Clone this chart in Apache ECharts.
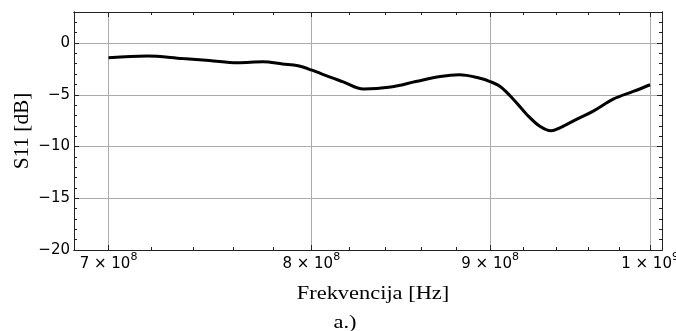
<!DOCTYPE html>
<html>
<head>
<meta charset="utf-8">
<script src="https://cdn.jsdelivr.net/npm/echarts@6/dist/echarts.min.js"></script>
<style>
html,body{margin:0;padding:0;background:#fff;}
#chart{width:676px;height:331px;}
</style>
</head>
<body>
<div id="chart"></div>
<script>
// Frequency points (Hz) and S11 values (dB)
const freqHz = [7.00e8, 7.18e8, 7.35e8, 7.48e8, 7.62e8, 7.75e8, 7.85e8, 7.93e8, 8.00e8, 8.10e8, 8.17e8, 8.28e8, 8.43e8, 8.57e8, 8.71e8, 8.82e8, 8.94e8, 9.00e8, 9.06e8, 9.14e8, 9.22e8, 9.30e8, 9.37e8, 9.42e8, 9.53e8, 9.63e8, 9.76e8, 9.89e8, 1.00e9];
const s11dB = [-1.42, -1.25, -1.5, -1.68, -1.9, -1.81, -2.03, -2.2, -2.6, -3.3, -3.75, -4.45, -4.25, -3.72, -3.23, -3.07, -3.4, -3.72, -4.2, -5.45, -6.9, -8.05, -8.48, -8.22, -7.35, -6.6, -5.42, -4.68, -4.03];

// Tick values
const xMajorTicks = [7e8, 8e8, 9e8, 1e9];
const xMinorTicks = [7.2e8, 7.4e8, 7.6e8, 7.8e8, 8.2e8, 8.4e8, 8.6e8, 8.8e8, 9.2e8, 9.4e8, 9.6e8, 9.8e8];
const yMajorTicks = [-20, -15, -10, -5, 0];
const yMinorTicks = [-19, -18, -17, -16, -14, -13, -12, -11, -9, -8, -7, -6, -4, -3, -2, -1, 1, 2];

// Axis ranges
const xRange = [6.8425e8, 1.0079e9];
const yRange = [-20, 3];

// Axis texts
const xTitle = 'Frekvencija [Hz]';
const yTitle = 'S11 [dB]';
const caption = 'a.)';

const lg = v => Math.log10(v);
const frameColor = '#222';
const gridColor = '#ababab';

function xLabel(v) {
  const e = Math.floor(v + 1e-9);
  const m = Math.round(Math.pow(10, v - e));
  return '{m|' + m + ' \u00d7 10}{s|' + e + '}';
}

function xAxisCfg(pos, ticks, len, labels, split) {
  return {
    type: 'value', position: pos, min: lg(xRange[0]), max: lg(xRange[1]),
    axisLine: { show: true, onZero: false, lineStyle: { color: frameColor, width: 1 } },
    axisTick: { show: true, inside: true, length: len, customValues: ticks.map(lg), lineStyle: { color: frameColor } },
    axisLabel: labels ? {
      show: true, customValues: ticks.map(lg), formatter: xLabel, margin: 2,
      rich: {
        m: { fontFamily: 'DejaVu Sans', fontSize: 15, color: '#000', lineHeight: 25 },
        s: { fontFamily: 'DejaVu Sans', fontSize: 11, color: '#000', lineHeight: 7, verticalAlign: 'top' }
      }
    } : { show: false },
    splitLine: split ? { show: true, lineStyle: { color: gridColor, width: 1 } } : { show: false },
    minorTick: { show: false }
  };
}

function yAxisCfg(pos, ticks, len, labels, split) {
  return {
    type: 'value', position: pos, min: yRange[0], max: yRange[1],
    axisLine: { show: true, onZero: false, lineStyle: { color: frameColor, width: 1 } },
    axisTick: { show: true, inside: true, length: len, customValues: ticks, lineStyle: { color: frameColor } },
    axisLabel: labels ? {
      show: true, customValues: ticks, margin: 4,
      fontFamily: 'DejaVu Sans', fontSize: 15, color: '#000',
      formatter: v => (v < 0 ? '\u2212' + Math.abs(v) : String(v))
    } : { show: false },
    splitLine: split ? { show: true, lineStyle: { color: gridColor, width: 1 } } : { show: false }
  };
}

const chart = echarts.init(document.getElementById('chart'), null, { renderer: 'canvas' });
chart.setOption({
  animation: false,
  backgroundColor: '#fff',
  grid: { left: 74, right: 14, top: 12, bottom: 81, containLabel: false, outerBoundsMode: 'none' },
  xAxis: [
    xAxisCfg('bottom', xMajorTicks, 5, true, true),
    xAxisCfg('bottom', xMinorTicks, 3, false, false),
    xAxisCfg('top', xMajorTicks, 5, false, false),
    xAxisCfg('top', xMinorTicks, 3, false, false)
  ],
  yAxis: [
    yAxisCfg('left', yMajorTicks, 5, true, true),
    yAxisCfg('left', yMinorTicks, 3, false, false),
    yAxisCfg('right', yMajorTicks, 5, false, false),
    yAxisCfg('right', yMinorTicks, 3, false, false)
  ],
  series: [{
    type: 'line',
    xAxisIndex: 0, yAxisIndex: 0,
    data: freqHz.map((f, i) => [lg(f), s11dB[i]]),
    smooth: 0.35,
    showSymbol: false,
    lineStyle: { color: '#000', width: 3 },
    z: 5
  }],
  graphic: [
    { type: 'text', x: 373, y: 294, scaleX: 1.18, style: { text: xTitle, fontFamily: 'Liberation Serif', fontSize: 19, fill: '#000', align: 'center', verticalAlign: 'middle' } },
    { type: 'text', x: 22, y: 131, rotation: Math.PI / 2, scaleX: 1.12, scaleY: 1.12, style: { text: yTitle, fontFamily: 'Liberation Serif', fontSize: 19, fill: '#000', align: 'center', verticalAlign: 'middle' } },
    { type: 'text', x: 345, y: 323, scaleX: 1.18, style: { text: caption, fontFamily: 'Liberation Serif', fontSize: 19, fill: '#000', align: 'center', verticalAlign: 'middle' } }
  ]
});
</script>
</body>
</html>
